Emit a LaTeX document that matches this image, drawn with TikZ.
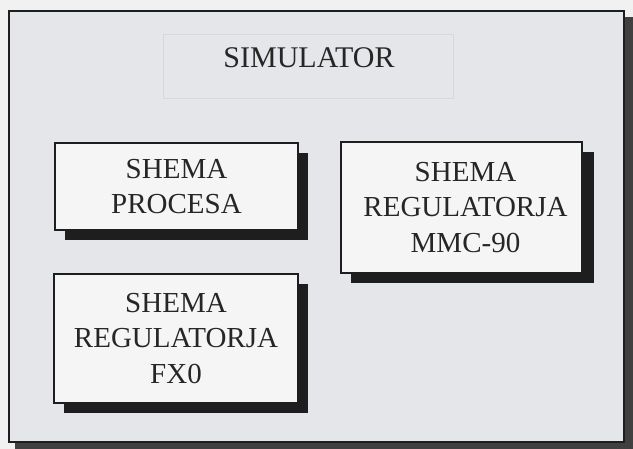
\documentclass[tikz,border=0pt]{standalone}
\usepackage{fontspec}
\setmainfont{Liberation Serif}
\usetikzlibrary{shadows}
\definecolor{pagebg}{HTML}{F1F1F1}
\definecolor{framefill}{HTML}{E5E6E9}
\definecolor{boxfill}{HTML}{F5F5F5}
\definecolor{inkline}{HTML}{1E1E1E}
\definecolor{faintline}{HTML}{D6D7DA}
\definecolor{textcol}{HTML}{262626}
\begin{document}
\begin{tikzpicture}[x=1pt,y=-1pt,
  shadowbox/.style={draw=inkline, line width=2.6pt, fill=boxfill, align=center,
    text=textcol, font=\fontsize{29}{35.5}\selectfont, inner sep=0pt,
    drop shadow={shadow xshift=10pt, shadow yshift=-10pt, fill=inkline, opacity=1}},
  titlebox/.style={draw=faintline, line width=0.8pt, fill=none, inner sep=0pt},
  titletext/.style={text=textcol, font=\fontsize{30}{36}\selectfont, inner sep=0pt}
]
\useasboundingbox (0,0) rectangle (633,449);
\fill[pagebg] (0,0) rectangle (633,449);
% outer frame with shadow
\fill[inkline!85] (15,17) rectangle (633,449);
\draw[inkline, line width=2.4pt, fill=framefill] (9,11) rectangle (624,442);
% title
\node[titlebox, minimum width=290pt, minimum height=64pt] (simbox) at (308,66) {};
\node[titletext, anchor=base] (sim) at (309,68) {SIMULATOR};
% boxes
\node[shadowbox, minimum width=243pt, minimum height=87pt] (proc) at (176.5,186.5)
  {SHEMA\\PROCESA};
\node[shadowbox, minimum width=241pt, minimum height=131pt,
  drop shadow={shadow xshift=12pt, shadow yshift=-10pt, fill=inkline, opacity=1},
  text width=241pt, align=center, xshift=0pt] (mmc) at (461.5,207.5)
  {\hspace*{8pt}SHEMA\\\hspace*{8pt}REGULATORJA\\\hspace*{8pt}MMC-90};
\node[shadowbox, minimum width=244pt, minimum height=129pt] (fx) at (176,338.5)
  {SHEMA\\REGULATORJA\\FX0};
\end{tikzpicture}
\end{document}
